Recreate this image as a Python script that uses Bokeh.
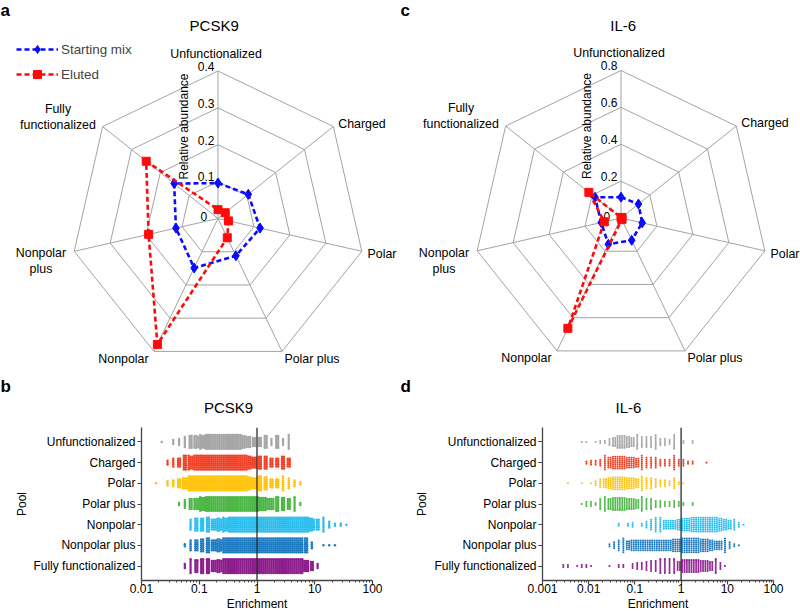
import math
from bokeh.plotting import figure
from bokeh.models import (Range1d, Legend, LegendItem, FixedTicker,
                          CustomJSTickFormatter, Span)
from bokeh.layouts import column, row
from bokeh.core.properties import value
from bokeh.embed import file_html
from bokeh.resources import INLINE

FONT = "Liberation Sans"

# ------------------------------------------------------------------ data
POOLS = ["Unfunctionalized", "Charged", "Polar", "Polar plus",
         "Nonpolar", "Nonpolar plus", "Fully functionalized"]
RADAR_LABELS = ["Unfunctionalized", "Charged", "Polar", "Polar plus",
                "Nonpolar", "Nonpolar\nplus", "Fully\nfunctionalized"]
SERIES = ["Starting mix", "Eluted"]

# relative abundance per pool (radar panels a and c)
PCSK9_STARTING = [0.096, 0.105, 0.117, 0.112, 0.149, 0.117, 0.152]
PCSK9_ELUTED = [0.024, 0.025, 0.029, 0.058, 0.379, 0.193, 0.249]
IL6_STARTING = [0.113, 0.121, 0.118, 0.134, 0.158, 0.110, 0.180]
IL6_ELUTED = [0.003, 0.004, 0.006, 0.010, 0.664, 0.093, 0.223]
PCSK9_RING_TICKS = [0, 0.1, 0.2, 0.3, 0.4]
IL6_RING_TICKS = [0, 0.2, 0.4, 0.6, 0.8]

# enrichment axes (panels b and d)
PCSK9_ENRICH_TICKS = [0.01, 0.1, 1, 10, 100]
IL6_ENRICH_TICKS = [0.001, 0.01, 0.1, 1, 10, 100]

# number of compounds per 0.1-decade bin of log10(enrichment)
BIN_WIDTH = 0.1
PCSK9_BIN_START = -1.8
PCSK9_UNF = [0, 1, 0, 3, 4, 6, 14, 20, 22, 24, 24, 24, 24, 24, 24, 22, 18, 10, 10, 14, 4, 14, 4, 8,
             0, 0, 0, 0, 0, 0, 0, 0, 0, 0]
PCSK9_CHARGED = [0, 0, 3, 5, 10, 16, 22, 24, 24, 24, 24, 24, 24, 24, 24, 24, 22, 18, 14, 14, 10, 10, 14, 10,
                 0, 0, 0, 0, 0, 0, 0, 0, 0, 0]
PCSK9_POLAR = [1, 0, 3, 4, 10, 18, 24, 24, 24, 24, 24, 24, 24, 24, 24, 24, 22, 18, 16, 14, 10, 10, 8, 6,
               4, 2, 0, 0, 0, 0, 0, 0, 0, 0]
PCSK9_POLAR_PLUS = [0, 0, 0, 0, 2, 5, 12, 18, 22, 24, 24, 24, 24, 24, 24, 24, 24, 24, 22, 20, 18, 16, 14, 12,
                    8, 2, 0, 0, 0, 0, 0, 0, 0, 0]
PCSK9_NONPOLAR = [0, 0, 0, 0, 0, 0, 6, 14, 14, 16, 18, 20, 22, 24, 24, 24, 24, 24, 24, 24, 24, 24, 24, 24,
                  24, 24, 24, 20, 12, 8, 4, 2, 2, 1]
PCSK9_NONPOLAR_PLUS = [0, 0, 0, 0, 0, 2, 6, 12, 14, 16, 18, 20, 24, 24, 24, 24, 24, 24, 24, 24, 24, 24, 24, 24,
                       24, 24, 16, 4, 0, 1, 1, 1, 0, 0]
PCSK9_FULLY = [0, 0, 0, 0, 0, 3, 8, 14, 16, 16, 18, 20, 24, 24, 24, 24, 24, 24, 24, 24, 24, 24, 24, 24,
               24, 24, 18, 10, 3, 0, 0, 0, 0, 0]

IL6_BIN_START = -2.6
IL6_UNF = [0, 0, 0, 0, 1, 1, 0, 1, 2, 2, 4, 10, 14, 14, 12, 10, 8, 6, 6, 6, 8, 4, 4, 3, 8, 0, 2, 0, 2,
           0, 0, 0, 0, 0, 0, 0, 0, 0, 0, 0]
IL6_CHARGED = [0, 0, 0, 0, 0, 2, 3, 3, 4, 8, 12, 14, 14, 14, 12, 12, 10, 8, 6, 6, 6, 4, 4, 4, 8, 4, 4, 2,
               2, 0, 0, 1, 0, 0, 0, 0, 0, 0, 0, 0]
IL6_POLAR = [0, 1, 0, 0, 1, 0, 1, 3, 5, 10, 12, 14, 14, 14, 12, 12, 10, 8, 6, 6, 5, 4, 4, 3, 6, 2, 1,
             0, 0, 0, 0, 0, 0, 0, 0, 0, 0, 0, 0, 0]
IL6_POLAR_PLUS = [0, 0, 0, 0, 1, 3, 3, 2, 6, 8, 12, 14, 14, 14, 12, 12, 10, 8, 6, 6, 4, 4, 3, 3, 4, 3, 2, 0, 2,
                  0, 0, 0, 0, 0, 0, 0, 0, 0, 0, 0]
IL6_NONPOLAR = [0, 0, 0, 0, 0, 0, 0, 0, 0, 0, 0, 0,
                2, 0, 2, 3, 0, 2, 4, 6, 8, 8, 10, 10, 10, 12, 14, 14, 16, 16, 16, 16, 16, 16, 14, 12, 10, 6, 3, 1]
IL6_NONPOLAR_PLUS = [0, 0, 0, 0, 0, 0, 0, 0, 0, 0,
                     2, 4, 6, 8, 10, 12, 12, 12, 12, 12, 12, 12, 12, 12, 14, 14, 16, 16, 16, 16, 14, 14, 12, 10,
                     10, 8, 4, 2, 1, 0]
IL6_FULLY = [2, 2, 0, 1, 2, 2, 1, 0, 0, 0, 1, 0, 2, 2, 0, 3, 4, 4, 5, 6, 6, 8, 8, 8, 8, 10, 14, 14, 14, 14,
             12, 12, 10, 8, 4, 1, 0, 0, 0, 0]

PCSK9_COUNTS = [PCSK9_UNF, PCSK9_CHARGED, PCSK9_POLAR, PCSK9_POLAR_PLUS,
                PCSK9_NONPOLAR, PCSK9_NONPOLAR_PLUS, PCSK9_FULLY]
IL6_COUNTS = [IL6_UNF, IL6_CHARGED, IL6_POLAR, IL6_POLAR_PLUS,
              IL6_NONPOLAR, IL6_NONPOLAR_PLUS, IL6_FULLY]

# ------------------------------------------------------------------ style
POOL_COLORS = ["#a6a6a6", "#ee4126", "#ffc20e", "#4db748", "#29bdee", "#1f7bc1", "#8d1e8d"]
BLUE, RED = "#0a0aff", "#ff0a0a"
GRID_COLOR = "#a3a3a3"
R_PX = 147.5
TOP_W, TOP_H = 400, 416
BOT_W, BOT_H = 400, 198
# label offsets from the radar centre in px (x right, y down)
LABEL_OFFSETS = [(-2, -165), (144, -95), (164, 35.5), (94, 140),
                 (-94.5, 140), (-177, 42.7), (-160, -101.7)]


def radar_fig(start, eluted, ticks, cx, cy, title, title_off, texts, legend=False):
    rmax = ticks[-1]
    s = R_PX / rmax
    p = figure(width=TOP_W, height=TOP_H,
               x_range=Range1d(-cx / s, (TOP_W - cx) / s),
               y_range=Range1d(-(TOP_H - cy) / s, cy / s),
               output_backend="svg", toolbar_location=None,
               x_axis_location=None, y_axis_location=None, min_border=0)
    p.outline_line_color = None
    p.xgrid.visible = False
    p.ygrid.visible = False
    n = len(POOLS)
    ang = [2 * math.pi * k / n for k in range(n)]
    closed = ang + [ang[0]]
    # rings and spokes
    rxs = [[t * math.sin(a) for a in closed] for t in ticks[1:]]
    rys = [[t * math.cos(a) for a in closed] for t in ticks[1:]]
    p.multi_line(rxs, rys, line_color=GRID_COLOR, line_width=1)
    sxs = [[0, rmax * math.sin(a)] for a in ang]
    sys_ = [[0, rmax * math.cos(a)] for a in ang]
    p.multi_line(sxs, sys_, line_color=GRID_COLOR, line_width=1)

    # tick labels on the top spoke
    for t in ticks:
        if t == 0:
            tx, ty, txt = -10.8 / s, 2.0 / s, "0"
        else:
            tx, ty, txt = -3.5 / s, t + 4.7 / s, f"{t:g}"
        p.text(x=[tx], y=[ty], text=[txt], text_align="right",
               text_baseline="middle", text_font_size="12px",
               text_font=value(FONT), text_color="#000000")
    p.text(x=[-34 / s], y=[92 / s], text=["Relative abundance"], angle=math.pi / 2,
           text_align="center", text_baseline="middle", text_font_size="12px",
           text_font=value(FONT), text_color="#000000")

    # axis labels
    lx = [dx / s for dx, dy in LABEL_OFFSETS]
    ly = [-dy / s for dx, dy in LABEL_OFFSETS]
    p.text(x=lx, y=ly, text=RADAR_LABELS, text_align="center", text_baseline="middle",
           text_font_size="12.4px", text_font=value(FONT), text_color="#000000",
           text_line_height=1.15)

    # series
    def pts(vals):
        return ([v * math.sin(a) for v, a in zip(vals, ang)],
                [v * math.cos(a) for v, a in zip(vals, ang)])
    bx, by = pts(start)
    lb = p.line(bx + [bx[0]], by + [by[0]], line_color=BLUE, line_width=2.6, line_dash="5 3")
    mb = p.scatter(bx, by, marker="diamond", size=10, color=BLUE)
    ex, ey = pts(eluted)
    lr = p.line(ex + [ex[0]], ey + [ey[0]], line_color=RED, line_width=2.6, line_dash="5 3")
    mr = p.scatter(ex, ey, marker="square", size=8, color=RED)

    # title of the radar panel
    p.text(x=[title_off[0] / s], y=[-title_off[1] / s], text=[title], text_align="center",
           text_baseline="middle", text_font_size="15px", text_font=value(FONT),
           text_color="#000000")
    # other texts: (text, px, py, size, bold, baseline)
    for txt, px, py, size, bold, base in texts:
        p.text(x=[(px - cx) / s], y=[(cy - py) / s], text=[txt],
               text_align="left" if bold else "center",
               text_baseline=base, text_font_size=size,
               text_font_style="bold" if bold else "normal",
               text_font=value(FONT), text_color="#000000")

    if legend:
        lg = Legend(items=[LegendItem(label=SERIES[0], renderers=[lb, mb]),
                           LegendItem(label=SERIES[1], renderers=[lr, mr])],
                    location=(16, TOP_H - 84), glyph_width=42, glyph_height=20, label_height=20,
                    spacing=5, padding=0, margin=0, border_line_color=None,
                    background_fill_alpha=0, label_standoff=3,
                    label_text_font_size="13.4px", label_text_font=FONT)
        p.add_layout(lg)
    return p


def strip_points(bin_start, counts, m, row_index, col_max=8, dy=0.095):
    xs, ys = [], []
    for j, n in enumerate(counts):
        if n == 0:
            continue
        c = bin_start + BIN_WIDTH * (j + 0.5)
        k = min(m, math.ceil(n / col_max))
        base, extra = divmod(n, k)
        for col in range(k):
            nc = base + (1 if col < extra else 0)
            lxv = c + (col - (k - 1) / 2) * BIN_WIDTH / m
            for i in range(nc):
                xs.append(10 ** lxv)
                ys.append(row_index + (i - (nc - 1) / 2) * dy)
    return xs, ys


def strip_fig(bin_start, counts_list, ticks, ml, mr, m, dot, pool_standoff):
    mt, mb = 11, 34
    p = figure(width=BOT_W, height=BOT_H, x_axis_type="log",
               x_range=Range1d(ticks[0], ticks[-1]), y_range=Range1d(6.7, -0.7),
               output_backend="svg", toolbar_location=None,
               min_border_left=ml, min_border_right=mr, min_border_top=mt, min_border_bottom=mb)
    p.outline_line_color = None
    p.xgrid.visible = False
    p.ygrid.visible = False
    for idx, counts in enumerate(counts_list):
        xs, ys = strip_points(bin_start, counts, m, idx)
        p.scatter(xs, ys, size=dot, color=POOL_COLORS[idx], line_color=None)
    p.add_layout(Span(location=1, dimension="height", line_color="#2b2b2b", line_width=1.3))

    minor = [k * t for t in ticks[:-1] for k in range(2, 10)]
    xa = p.xaxis[0]
    xa.ticker = FixedTicker(ticks=ticks, minor_ticks=minor)
    xa.formatter = CustomJSTickFormatter(code="return String(Number(tick.toPrecision(6)));")
    ya = p.yaxis[0]
    ya.ticker = FixedTicker(ticks=list(range(len(POOLS))), minor_ticks=[])
    ya.major_label_overrides = {i: name for i, name in enumerate(POOLS)}
    for ax in (xa, ya):
        ax.axis_line_color = "#444444"
        ax.axis_line_width = 1.3
        ax.major_tick_line_color = "#444444"
        ax.major_tick_line_width = 1.2
        ax.minor_tick_line_color = "#444444"
        ax.major_tick_out = 4
        ax.major_tick_in = 0
        ax.minor_tick_out = 2
        ax.minor_tick_in = 0
        ax.major_label_text_font = FONT
        ax.major_label_text_font_size = "12px"
        ax.major_label_text_color = "#000000"
        ax.axis_label_text_font = FONT
        ax.axis_label_text_font_size = "12px"
        ax.axis_label_text_font_style = "normal"
        ax.axis_label_text_color = "#000000"
    xa.major_label_standoff = -1
    ya.major_label_standoff = 2
    xa.axis_label = "Enrichment"
    xa.axis_label_standoff = 1
    ya.axis_label = "Pool"
    ya.axis_label_standoff = pool_standoff
    return p


pa = radar_fig(PCSK9_STARTING, PCSK9_ELUTED, PCSK9_RING_TICKS, 217.5, 218, "PCSK9", (-3.8, -193),
               [("a", 0, 0, "17px", True, "top"), ("b", 0, 376.5, "17px", True, "top"),
                ("PCSK9", 228, 407, "15px", False, "middle")], legend=True)
pc = radar_fig(IL6_STARTING, IL6_ELUTED, IL6_RING_TICKS, 220.5, 217.5, "IL-6", (2.2, -192.5),
               [("c", 0, 0, "17px", True, "top"), ("d", 0, 376.5, "17px", True, "top"),
                ("IL-6", 228, 407, "15px", False, "middle")])
pb = strip_fig(PCSK9_BIN_START, PCSK9_COUNTS, PCSK9_ENRICH_TICKS, 141, 28, 3, 2.5, 1)
pd = strip_fig(IL6_BIN_START, IL6_COUNTS, IL6_ENRICH_TICKS, 142, 27, 2, 2.1, 2)

layout = column(row(pa, pc), row(pb, pd))
open("out.html", "w").write(file_html(layout, INLINE))
